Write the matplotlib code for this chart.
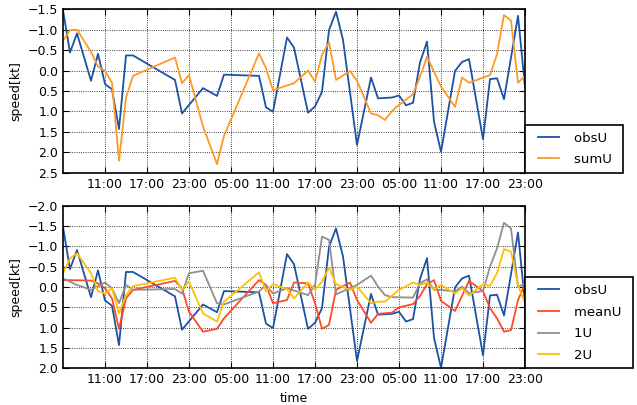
import datetime as dt
import matplotlib
matplotlib.use("Agg")
import matplotlib.pyplot as plt
import matplotlib.dates as mdates
from matplotlib.legend_handler import HandlerLine2D
from matplotlib.lines import Line2D

# ---- data (hours after 05:00 of day 1, value in kt) ----
base_time = dt.datetime(2015, 1, 1, 5, 0)

obs_hours = [0, 1, 2, 4, 5, 6, 7, 8, 9, 10, 16, 17, 20, 22, 23, 28, 29, 30, 32, 33,
             35, 36, 37, 38, 39, 40, 42, 44, 45, 47, 48, 49, 50, 51, 52, 53, 54, 56,
             57, 58, 60, 61, 62, 63, 65, 66]
obsU = [-1.48, -0.44, -0.91, 0.25, -0.41, 0.33, 0.46, 1.43, -0.37, -0.37, 0.23, 1.05,
        0.43, 0.62, 0.10, 0.13, 0.90, 1.01, -0.81, -0.56, 1.03, 0.88, 0.52, -0.99,
        -1.44, -0.75, 1.82, 0.17, 0.68, 0.66, 0.61, 0.85, 0.79, -0.20, -0.71, 1.25,
        1.99, 0.01, -0.21, -0.28, 1.68, 0.21, 0.19, 0.70, -1.34, 0.40]

sum_hours = [0, 1, 2, 4, 5, 6, 7, 8, 9, 10, 16, 17, 18, 20, 22, 23, 28, 29, 30, 33,
             35, 36, 37, 38, 39, 41, 42, 44, 45, 46, 47, 48, 50, 51, 52, 54, 56, 57,
             58, 61, 62, 63, 64, 65, 66]
sumU = [-0.73, -0.99, -1.00, -0.46, -0.10, 0.01, 0.30, 2.21, 0.66, 0.13, -0.32, 0.31,
        0.11, 1.37, 2.29, 1.60, -0.42, -0.06, 0.48, 0.31, 0.00, 0.27, -0.38, -0.69,
        0.23, 0.01, 0.25, 1.05, 1.09, 1.21, 0.99, 0.84, 0.58, 0.15, -0.34, 0.39,
        0.89, 0.17, 0.30, 0.11, -0.40, -1.36, -1.22, 0.30, 0.13]

mean_hours = [0, 4, 5, 6, 7, 8, 9, 10, 16, 17, 18, 20, 22, 23, 28, 29, 30, 32, 33, 35,
              36, 37, 38, 39, 41, 42, 44, 45, 47, 48, 50, 51, 52, 53, 54, 56, 58, 60,
              61, 62, 63, 64, 65, 66]
meanU = [-0.17, -0.16, -0.09, 0.03, 0.28, 1.03, 0.28, 0.07, -0.15, 0.03, 0.61, 1.10,
         1.03, 0.77, -0.17, -0.05, 0.40, 0.32, -0.11, -0.09, 0.40, 1.03, 0.93, 0.07,
         -0.11, 0.32, 0.88, 0.66, 0.63, 0.50, 0.42, 0.22, -0.07, -0.17, 0.34, 0.59,
         -0.15, 0.10, 0.52, 0.77, 1.10, 1.06, 0.32, -0.07]

one_hours = [0, 2, 4, 6, 7, 8, 9, 10, 16, 17, 18, 20, 22, 23, 28, 29, 30, 32, 35, 36,
             37, 38, 39, 42, 44, 45, 46, 47, 50, 51, 52, 53, 54, 56, 57, 58, 60, 61,
             62, 63, 64, 65, 66]
U1 = [-0.21, -0.05, 0.07, -0.11, 0.03, 0.40, -0.05, 0.07, 0.05, 0.16, -0.34, -0.40,
      0.40, 0.43, 0.11, -0.05, 0.16, 0.03, 0.20, -0.05, -1.24, -1.16, 0.18, -0.05,
      -0.28, -0.01, 0.20, 0.25, 0.26, -0.09, -0.19, 0.07, 0.07, 0.11, -0.01, 0.15,
      0.10, -0.50, -0.95, -1.58, -1.44, 0.00, -0.09]

two_hours = [0, 1, 2, 4, 5, 6, 7, 8, 9, 10, 16, 17, 18, 20, 22, 23, 28, 29, 30, 32,
             33, 35, 36, 37, 38, 39, 41, 42, 44, 45, 46, 48, 50, 51, 52, 53, 54, 56,
             57, 58, 60, 61, 62, 63, 64, 65, 66]
U2 = [-0.34, -0.70, -0.83, -0.34, 0.10, 0.16, 0.03, 0.65, 0.20, -0.02, -0.23, 0.07,
      -0.13, 0.65, 0.85, 0.36, -0.36, 0.11, -0.07, 0.05, 0.28, -0.11, 0.06, -0.13,
      -0.48, -0.07, 0.07, -0.01, 0.40, 0.36, 0.36, 0.07, -0.11, -0.05, -0.11, 0.07,
      -0.05, 0.16, 0.03, 0.21, -0.07, -0.03, -0.34, -0.93, -0.87, -0.05, 0.40]

top_yticks = [-1.5, -1.0, -0.5, 0.0, 0.5, 1.0, 1.5, 2.0, 2.5]
bot_yticks = [-2.0, -1.5, -1.0, -0.5, 0.0, 0.5, 1.0, 1.5, 2.0]
xtick_hours = [6, 12, 18, 24, 30, 36, 42, 48, 54, 60, 66]


def to_time(hours):
    return [base_time + dt.timedelta(hours=h) for h in hours]


c_obs = "#1c52a6"
c_sum = "#ff9922"
c_mean = "#ff4a26"
c_1 = "#8f8f8f"
c_2 = "#ffc000"
LW = 1.3
FS = 9
LFS = 9.5

fig = plt.figure(figsize=(6.37, 4.05), dpi=100)
ax1 = fig.add_axes([0.0989, 0.5736, 0.7253, 0.4035])
ax2 = fig.add_axes([0.0989, 0.0906, 0.7253, 0.4015])

ax1.plot(to_time(obs_hours), obsU, color=c_obs, lw=LW, label="obsU ")
ax1.plot(to_time(sum_hours), sumU, color=c_sum, lw=LW, label="sumU ")

ax2.plot(to_time(obs_hours), obsU, color=c_obs, lw=LW, label="obsU ")
ax2.plot(to_time(mean_hours), meanU, color=c_mean, lw=LW, label="meanU ")
ax2.plot(to_time(one_hours), U1, color=c_1, lw=LW, label="1U ")
ax2.plot(to_time(two_hours), U2, color=c_2, lw=LW, label="2U ")

for ax, yt in ((ax1, top_yticks), (ax2, bot_yticks)):
    ax.set_xlim(base_time, base_time + dt.timedelta(hours=66))
    ax.set_xticks(to_time(xtick_hours))
    ax.xaxis.set_major_formatter(mdates.DateFormatter("%H:%M"))
    ax.set_yticks(yt)
    ax.set_yticklabels([f"{v:.1f}".replace("-", "\u2212") for v in yt])
    ax.set_ylim(yt[-1], yt[0])
    ax.grid(True, color="k", linestyle=":", linewidth=0.6)
    ax.tick_params(direction="in", top=True, right=True, labelsize=FS, length=4, width=0.8)
    for s in ax.spines.values():
        s.set_linewidth(1.2)
    ax.set_ylabel("speed[kt]", fontsize=FS)
    leg = ax.legend(loc="lower left", bbox_to_anchor=(1.0, 0.0), borderaxespad=0,
                    fontsize=LFS, fancybox=False, framealpha=1, edgecolor="black",
                    borderpad=0.5, labelspacing=0.65, handlelength=2.05,
                    handletextpad=1.2,
                    handler_map={Line2D: HandlerLine2D(xpad=0.45)})
    leg.get_frame().set_linewidth(1.2)

ax2.set_xlabel("time", fontsize=FS)

fig.savefig("out.png", dpi=100, facecolor="white")
